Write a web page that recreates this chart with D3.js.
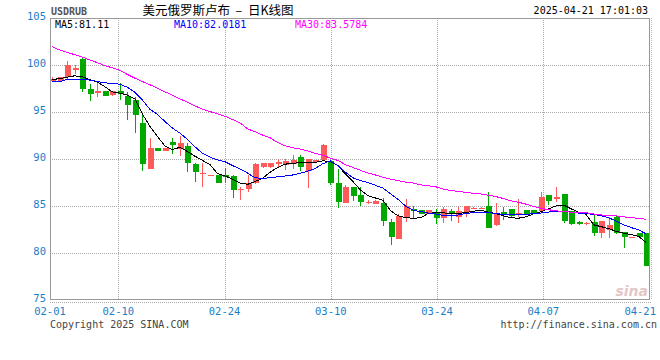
<!DOCTYPE html>
<html><head><meta charset="utf-8">
<script src="https://cdn.jsdelivr.net/npm/d3@7/dist/d3.min.js"></script>
<style>body{margin:0;background:#fff}svg{display:block}</style>
</head><body>
<script>
const dates = [
"02-01","02-02","02-03","02-04","02-05","02-06","02-07","02-08","02-09","02-10","02-11","02-12","02-13","02-14",
"02-15","02-16","02-17","02-18","02-19","02-20","02-21","02-22","02-23","02-24","02-25","02-26","02-27","02-28",
"03-01","03-02","03-03","03-04","03-05","03-06","03-07","03-08","03-09","03-10","03-11","03-12","03-13","03-14",
"03-15","03-16","03-17","03-18","03-19","03-20","03-21","03-22","03-23","03-24","03-25","03-26","03-27","03-28",
"03-29","03-30","03-31","04-01","04-02","04-03","04-04","04-05","04-06","04-07","04-08","04-09","04-10","04-11",
"04-12","04-13","04-14","04-15","04-16","04-17","04-18","04-19","04-20","04-21"];
const open  = [98.33,98.35,98.70,99.50,100.60,97.40,96.98,97.20,96.78,97.20,96.70,96.30,93.85,88.97,91.15,90.90,91.80,91.10,91.40,89.45,
88.45,88.22,88.25,88.25,88.20,86.65,86.80,87.40,89.10,89.10,89.50,89.40,89.45,90.25,88.75,89.75,89.85,89.80,87.50,85.30,
87.00,86.15,85.30,85.20,85.30,83.30,81.50,83.75,84.65,84.55,84.20,84.40,83.70,84.50,83.80,84.35,84.70,84.72,85.05,82.95,
84.35,84.65,84.10,84.55,84.55,84.50,86.15,85.70,86.30,84.50,83.35,83.05,83.35,82.15,82.45,83.85,82.20,81.62,82.10,82.10];
const high  = [98.72,98.75,100.45,100.05,100.75,98.00,98.05,97.25,97.25,98.05,97.15,96.55,94.70,92.25,91.20,91.20,92.25,92.45,91.75,89.60,
89.55,88.35,88.30,89.00,88.25,87.05,88.25,89.55,89.60,89.60,90.05,90.05,90.45,90.45,90.00,89.90,91.55,89.90,88.90,87.25,
87.05,87.05,85.65,85.60,85.80,83.60,84.20,85.75,85.00,84.60,84.60,84.65,84.85,84.70,84.90,85.05,84.85,84.85,86.50,85.30,
84.85,84.70,85.70,84.60,84.60,86.50,86.20,87.05,86.30,84.50,83.40,83.25,84.05,83.45,83.85,83.95,82.25,81.75,82.15,82.15];
const low   = [98.30,98.30,98.40,99.00,97.10,96.20,96.55,96.70,96.70,96.30,94.15,92.80,88.75,88.95,90.85,90.85,90.50,90.30,88.60,87.60,
87.05,88.20,87.45,87.50,85.90,85.65,86.45,87.35,89.05,89.05,89.20,88.85,88.90,88.75,86.95,89.70,89.80,87.20,84.80,85.30,
85.50,85.00,85.25,85.20,82.90,80.85,81.50,83.30,83.70,84.15,84.15,83.10,83.15,83.45,83.15,83.80,84.70,84.70,82.70,82.90,
83.50,83.70,83.80,84.05,84.10,84.40,85.10,85.45,83.15,83.00,83.00,83.00,81.85,81.55,81.55,82.00,80.55,81.60,81.60,78.60];
const close = [98.51,98.68,100.00,99.65,97.40,96.95,97.20,96.75,97.20,96.90,95.75,94.70,89.50,91.15,90.90,91.15,91.50,91.65,89.60,88.60,
88.55,88.32,87.50,88.05,86.65,86.85,87.40,89.45,89.55,89.55,89.65,89.75,89.85,89.20,89.95,89.85,91.50,87.50,85.45,87.00,
86.10,85.45,85.45,85.55,83.45,81.75,83.90,85.00,84.45,84.20,84.55,83.75,84.65,84.15,84.50,85.00,84.80,84.80,82.70,84.30,
84.00,83.90,84.30,84.10,84.15,86.00,85.55,86.00,83.45,83.05,83.05,83.20,82.15,83.40,83.00,82.10,81.65,81.72,81.65,78.65];
const ma5  = [98.45,98.55,98.70,98.85,98.75,98.45,98.20,97.70,97.15,97.00,96.80,96.40,94.80,93.50,92.40,91.40,91.00,91.25,90.80,90.30,
89.85,89.40,88.45,88.20,87.85,87.45,87.30,87.60,87.95,88.60,89.10,89.45,89.55,89.60,89.60,89.65,89.80,89.75,89.30,88.40,
87.60,86.70,86.10,85.85,85.60,84.50,83.95,83.75,83.70,83.75,84.20,84.30,84.30,84.15,84.20,84.30,84.45,84.55,84.35,84.20,
83.95,83.75,83.70,83.85,84.15,84.40,84.70,85.00,85.10,84.70,84.35,84.10,83.00,82.80,82.60,82.30,82.10,81.95,81.75,81.11];
const ma10 = [98.30,98.20,98.50,98.50,98.50,98.40,98.25,98.10,98.05,97.95,97.65,97.10,96.30,95.30,94.75,94.00,93.30,92.75,92.10,91.30,
90.60,90.20,89.90,89.70,89.30,88.95,88.50,88.00,87.95,88.00,88.10,88.20,88.30,88.50,88.70,89.00,89.50,89.80,89.30,88.60,
88.00,87.70,87.50,87.20,86.90,86.30,85.70,85.00,84.55,84.40,84.25,84.15,84.00,83.95,84.05,84.20,84.30,84.30,84.30,84.20,
84.10,84.05,84.05,84.10,84.20,84.25,84.35,84.45,84.45,84.35,84.25,84.20,84.10,83.95,83.75,83.40,83.00,82.70,82.45,82.02];
const ma30 = [101.95,101.60,101.35,101.10,100.85,100.55,100.25,99.95,99.70,99.45,99.00,98.60,98.25,97.90,97.55,97.15,96.80,96.40,96.05,95.65,
95.30,95.05,94.80,94.55,94.20,93.85,93.20,92.90,92.55,92.25,91.75,91.40,91.20,91.05,90.85,90.60,90.40,90.10,89.85,89.40,
89.10,88.80,88.50,88.30,88.05,87.85,87.70,87.55,87.45,87.25,87.15,87.05,86.80,86.65,86.55,86.45,86.35,86.28,86.15,86.00,
85.80,85.55,85.40,85.20,84.95,84.75,84.60,84.50,84.40,84.35,84.35,84.30,84.15,84.05,84.00,83.95,83.85,83.75,83.70,83.58];
const xTickLabels = ["02-01","02-10","02-24","03-10","03-24","04-07","04-21"];
const yTicks = [75,80,85,90,95,100,105];
const legend = [{name:"MA5", value:"81.11"},{name:"MA10", value:"82.0181"},{name:"MA30", value:"83.5784"}];
const maSeries = [ma5, ma10, ma30];

const W = 660, H = 360;
const L = 50, R = 650, T = 18, B = 300;
const mono = "'DejaVu Sans Mono', monospace";
const blue = "#1a7ec8";
const upColor = "#ff5a5a", downColor = "#00a800";
const maColors = ["#000000", "#0000ff", "#ff00ff"];

const svg = d3.select("body").append("svg").attr("width", W).attr("height", H);

const y = d3.scaleLinear().domain([75, 105]).range([B, T]);
const xb = d3.scaleBand().domain(dates).range([49, 649.3]).paddingInner(0.2);
const xt = d3.scaleLinear().domain([0, dates.length - 1]).range([L, 649.6]);
const bw = xb.bandwidth();
const cx = d => xb(d) + bw / 2;

// grid
const grid = svg.append("g").attr("stroke", "#aaa").attr("stroke-dasharray", "1,1").attr("shape-rendering", "crispEdges");
yTicks.filter(v => v > 75 && v < 105).forEach(v => {
  grid.append("line").attr("x1", L).attr("x2", R).attr("y1", Math.round(y(v)) + 0.5).attr("y2", Math.round(y(v)) + 0.5);
});
xTickLabels.slice(1, -1).forEach(lbl => {
  const xx = Math.round(xt(dates.indexOf(lbl))) + 0.5;
  grid.append("line").attr("x1", xx).attr("x2", xx).attr("y1", T).attr("y2", B);
});
svg.append("line").attr("x1", L).attr("x2", R + 1).attr("y1", B + 2.5).attr("y2", B + 2.5)
  .attr("stroke", "#aaa").attr("stroke-dasharray", "1,1").attr("shape-rendering", "crispEdges");
svg.append("line").attr("x1", R + 1.5).attr("x2", R + 1.5).attr("y1", T).attr("y2", B)
  .attr("stroke", "#bbb").attr("stroke-dasharray", "1,1").attr("shape-rendering", "crispEdges");

// candles
const cg = svg.append("g").attr("shape-rendering", "crispEdges");
dates.forEach((d, i) => {
  const up = close[i] >= open[i];
  const col = up ? upColor : downColor;
  const xc = Math.round(cx(d));
  cg.append("line").attr("x1", xc + 0.5).attr("x2", xc + 0.5)
    .attr("y1", y(high[i])).attr("y2", y(low[i])).attr("stroke", col);
  const top = y(Math.max(open[i], close[i])), bot = y(Math.min(open[i], close[i]));
  cg.append("rect").attr("x", xc - 2.5).attr("width", 6)
    .attr("y", top).attr("height", Math.max(1.5, bot - top)).attr("fill", col);
});

// MA lines
maSeries.forEach((s, k) => {
  const line = d3.line().x((v, i) => cx(dates[i])).y(v => y(v));
  svg.append("path").datum(s).attr("d", line).attr("fill", "none")
    .attr("stroke", maColors[k]).attr("stroke-width", 1).attr("shape-rendering", "crispEdges");
});

// frame
const fr = svg.append("g").attr("stroke", "#999").attr("shape-rendering", "crispEdges");
fr.append("line").attr("x1", L + 0.5).attr("x2", L + 0.5).attr("y1", T).attr("y2", B);
fr.append("line").attr("x1", L).attr("x2", R).attr("y1", T + 0.5).attr("y2", T + 0.5);
fr.append("line").attr("x1", R - 0.5).attr("x2", R - 0.5).attr("y1", T).attr("y2", B);
fr.append("line").attr("x1", L).attr("x2", R).attr("y1", B - 0.5).attr("y2", B - 0.5);

// y labels
svg.append("g").selectAll("text").data(yTicks).join("text")
  .attr("x", 46).attr("y", v => y(v) + 2).attr("text-anchor", "end")
  .attr("font-family", mono).attr("font-size", 10.5).attr("fill", blue).text(v => v);

// x labels
svg.append("g").selectAll("text").data(xTickLabels).join("text")
  .attr("x", (lbl, i) => i === xTickLabels.length - 1 ? 656 : xt(dates.indexOf(lbl)))
  .attr("y", 315)
  .attr("text-anchor", (lbl, i) => i === xTickLabels.length - 1 ? "end" : "middle")
  .attr("font-family", mono).attr("font-size", 10.5).attr("fill", blue).text(d => d);

// header
svg.append("text").attr("x", 51).attr("y", 15).attr("font-family", mono).attr("font-weight", "bold")
  .attr("font-size", 10).attr("fill", "#555").text("USDRUB");
svg.append("text").attr("x", 218).attr("y", 14.5).attr("text-anchor", "middle")
  .attr("font-family", "'Noto Sans CJK SC', sans-serif").attr("font-size", 12.5).attr("fill", "#000")
  .style("white-space", "pre")
  .text("美元俄罗斯卢布  –  日K线图");
svg.append("text").attr("x", 648).attr("y", 14).attr("text-anchor", "end").attr("font-family", mono)
  .attr("font-size", 10).attr("fill", "#000").text("2025-04-21 17:01:03");

// legend
const legX = [55, 174, 295];
legend.forEach((l, k) => {
  svg.append("text").attr("x", legX[k]).attr("y", 28).attr("font-family", mono).attr("font-size", 10)
    .attr("fill", maColors[k]).text(l.name + ":" + l.value);
});

// watermark
svg.append("text").attr("x", 648).attr("y", 296).attr("text-anchor", "end").attr("font-family", "'DejaVu Sans', sans-serif")
  .attr("font-style", "italic").attr("font-weight", "bold").attr("font-size", 14).attr("fill", "#d8b0b0")
  .attr("opacity", 0.7).text("sina");

// footer
svg.append("text").attr("x", 50).attr("y", 328).attr("font-family", mono).attr("font-size", 10)
  .attr("fill", "#444").text("Copyright 2025 SINA.COM");
svg.append("text").attr("x", 657).attr("y", 328).attr("text-anchor", "end").attr("font-family", mono)
  .attr("font-size", 10).attr("fill", "#444").text("http://finance.sina.com.cn");
</script>
</body></html>
